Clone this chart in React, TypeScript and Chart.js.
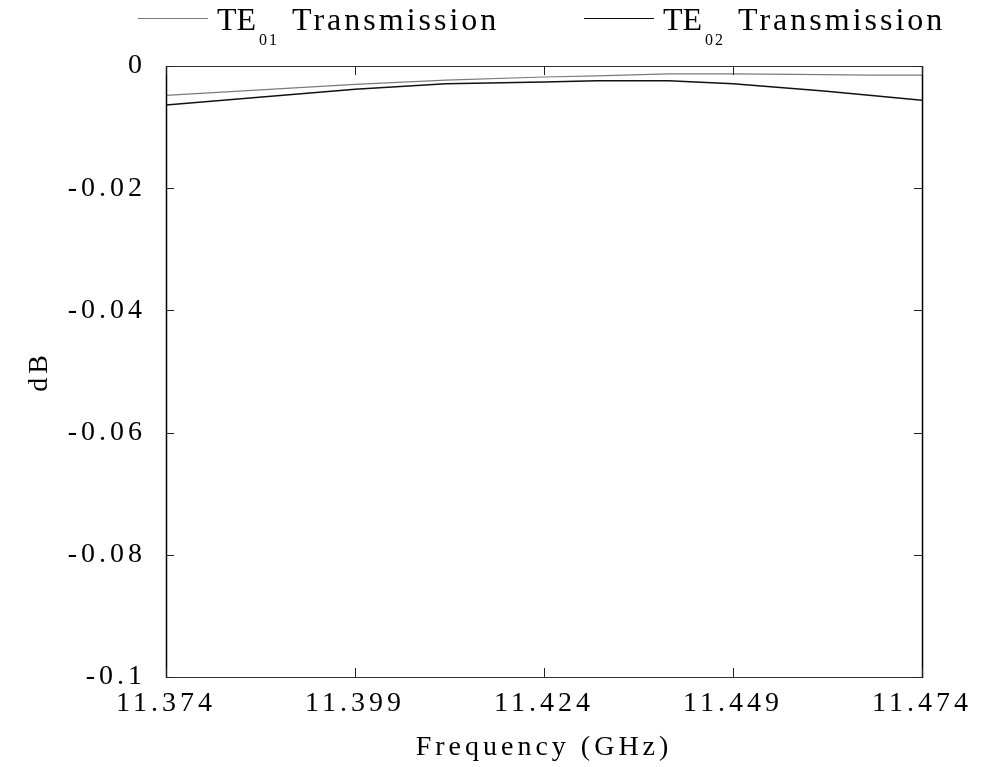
import React, { useEffect, useRef } from "react";
import { Chart, registerables } from "chart.js";

Chart.register(...registerables);

// ---- Data ----
const frequencies = [11.374, 11.399, 11.411, 11.424, 11.431, 11.4405, 11.449, 11.461, 11.467, 11.474];
const te01Transmission = [-0.0048, -0.003, -0.0023, -0.0018, -0.0016, -0.0013, -0.0013, -0.0014, -0.0015, -0.0015];
const te02Transmission = [-0.0064, -0.0038, -0.0029, -0.0026, -0.0024, -0.0024, -0.0029, -0.0041, -0.0048, -0.0056];

const xTickValues = [11.374, 11.399, 11.424, 11.449, 11.474];
const xTickLabels = ["11.374", "11.399", "11.424", "11.449", "11.474"];
const yTickValues = [0, -0.02, -0.04, -0.06, -0.08, -0.1];
const yTickLabels = ["0", "-0.02", "-0.04", "-0.06", "-0.08", "-0.1"];

const legendMain = ["TE", "TE"];
const legendSub = ["01", "02"];
const legendRest = ["Transmission", "Transmission"];

const xTitle = "Frequency (GHz)";
const yTitle = "dB";

const FONT = '"Liberation Serif", "Times New Roman", serif';
const COLORS = ["#7a7a7a", "#111111"];
const SPACING = "4px";

const spacingPlugin = {
  id: "letterSpacing",
  beforeUpdate(chart: any) {
    (chart.ctx as any).letterSpacing = SPACING;
  },
  beforeLayout(chart: any) {
    (chart.ctx as any).letterSpacing = SPACING;
  },
  beforeDraw(chart: any) {
    (chart.ctx as any).letterSpacing = SPACING;
  },
};

const framePlugin = {
  id: "frameTicks",
  afterDraw(chart: any) {
    const { ctx, chartArea: a, scales } = chart;
    const x = scales.x;
    const y = scales.y;
    ctx.save();
    ctx.lineWidth = 1;
    ctx.strokeStyle = "#333";
    ctx.beginPath();
    ctx.moveTo(a.left, a.top + 0.5);
    ctx.lineTo(a.right, a.top + 0.5);
    ctx.moveTo(a.left, a.bottom + 0.5);
    ctx.lineTo(a.right, a.bottom + 0.5);
    ctx.stroke();
    ctx.strokeStyle = "#000";
    ctx.lineWidth = 1.5;
    ctx.beginPath();
    ctx.moveTo(a.left + 0.5, a.top);
    ctx.lineTo(a.left + 0.5, a.bottom + 1);
    ctx.moveTo(a.right + 0.5, a.top);
    ctx.lineTo(a.right + 0.5, a.bottom + 1);
    ctx.stroke();
    ctx.lineWidth = 1;
    ctx.strokeStyle = "#222";
    ctx.beginPath();
    yTickValues.forEach((v) => {
      const py = Math.round(y.getPixelForValue(v)) + 0.5;
      ctx.moveTo(a.left, py);
      ctx.lineTo(a.left + 8, py);
      ctx.moveTo(a.right - 8, py);
      ctx.lineTo(a.right, py);
    });
    xTickValues.forEach((v) => {
      const px = Math.round(x.getPixelForValue(v)) + 0.5;
      ctx.moveTo(px, a.top);
      ctx.lineTo(px, a.top + 9);
      ctx.moveTo(px, a.bottom - 9);
      ctx.lineTo(px, a.bottom);
    });
    ctx.stroke();
    ctx.restore();
  },
};

const legendPlugin = {
  id: "customLegend",
  afterDraw(chart: any) {
    const ctx = chart.ctx;
    const lineStarts = [138, 584];
    const lineEnds = [208, 654];
    const lineY = 18.5;
    ctx.save();
    ctx.textAlign = "left";
    ctx.textBaseline = "alphabetic";
    ctx.fillStyle = "#000";
    for (let i = 0; i < legendMain.length; i++) {
      ctx.strokeStyle = COLORS[i];
      ctx.lineWidth = 1.2;
      ctx.beginPath();
      ctx.moveTo(lineStarts[i], lineY);
      ctx.lineTo(lineEnds[i], lineY);
      ctx.stroke();
      const base = lineEnds[i];
      ctx.font = `32px ${FONT}`;
      (ctx as any).letterSpacing = "0px";
      ctx.fillText(legendMain[i], base + 9, 30);
      ctx.font = `16px ${FONT}`;
      (ctx as any).letterSpacing = "2px";
      ctx.fillText(legendSub[i], base + 51, 45);
      ctx.font = `32px ${FONT}`;
      (ctx as any).letterSpacing = "3px";
      ctx.fillText(legendRest[i], base + 84, 30);
    }
    ctx.restore();
    (ctx as any).letterSpacing = SPACING;
  },
};

export default function App() {
  const canvasRef = useRef<HTMLCanvasElement | null>(null);

  useEffect(() => {
    document.body.style.margin = "0";
    const canvas = canvasRef.current;
    if (!canvas) return;
    const chart = new Chart(canvas, {
      type: "line",
      data: {
        datasets: [
          {
            label: "TE01 Transmission",
            data: frequencies.map((f, i) => ({ x: f, y: te01Transmission[i] })),
            borderColor: COLORS[0],
            borderWidth: 1.2,
            pointRadius: 0,
            tension: 0,
            fill: false,
          },
          {
            label: "TE02 Transmission",
            data: frequencies.map((f, i) => ({ x: f, y: te02Transmission[i] })),
            borderColor: COLORS[1],
            borderWidth: 1.5,
            pointRadius: 0,
            tension: 0,
            fill: false,
          },
        ],
      },
      options: {
        animation: false,
        responsive: false,
        devicePixelRatio: 1,
        layout: { padding: { top: 66, right: 52, left: 0, bottom: 0 } },
        plugins: {
          legend: { display: false },
          tooltip: { enabled: false },
          title: { display: false },
        },
        scales: {
          x: {
            type: "linear",
            min: 11.374,
            max: 11.474,
            afterBuildTicks: (s: any) => {
              s.ticks = xTickValues.map((v) => ({ value: v }));
            },
            afterFit: (s: any) => {
              s.height = 90;
            },
            grid: { display: false, drawTicks: false },
            border: { display: false },
            ticks: {
              autoSkip: false,
              maxRotation: 0,
              minRotation: 0,
              padding: 10,
              color: "#000",
              font: { family: FONT, size: 28 },
              callback: (_v: any, i: number) => xTickLabels[i],
            },
            title: {
              display: true,
              text: xTitle,
              color: "#000",
              font: { family: FONT, size: 28, lineHeight: 1 },
              padding: { top: 0, bottom: 5 },
            },
          },
          y: {
            type: "linear",
            min: -0.1,
            max: 0,
            afterBuildTicks: (s: any) => {
              s.ticks = yTickValues.map((v) => ({ value: v }));
            },
            afterFit: (s: any) => {
              s.width = 166;
            },
            grid: { display: false, drawTicks: false },
            border: { display: false },
            ticks: {
              autoSkip: false,
              padding: 20,
              color: "#000",
              font: { family: FONT, size: 28 },
              callback: (_v: any, i: number) => yTickLabels[i],
            },
            title: {
              display: true,
              text: yTitle,
              color: "#000",
              font: { family: FONT, size: 28, lineHeight: 1 },
              padding: { top: 26, bottom: 0 },
            },
          },
        },
      } as any,
      plugins: [spacingPlugin, framePlugin, legendPlugin],
    });
    return () => {
      chart.destroy();
    };
  }, []);

  return (
    <div style={{ width: 982, height: 767, background: "#fff" }}>
      <canvas ref={canvasRef} width={982} height={767} style={{ display: "block" }} />
    </div>
  );
}
